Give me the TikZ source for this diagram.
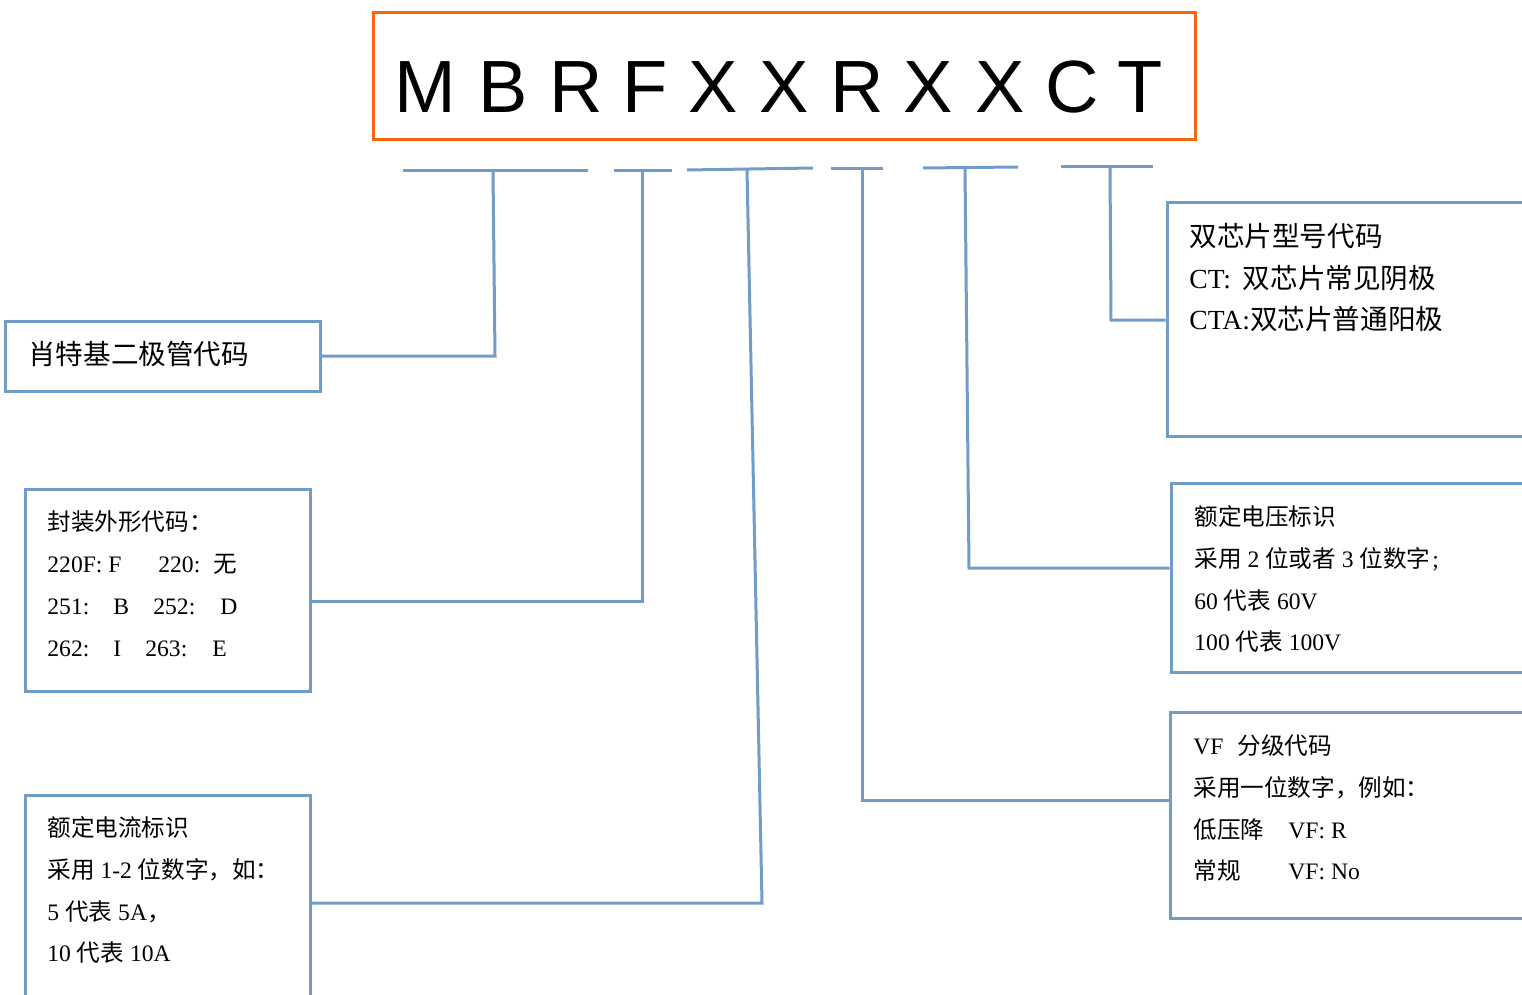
\documentclass[tikz,border=0pt]{standalone}
\usepackage{fontspec}
\setmainfont{Liberation Serif}
\newfontfamily\cjk{Noto Sans CJK SC}
\newfontfamily\titlefont{Liberation Sans}
\definecolor{lb}{RGB}{114,156,200}
\definecolor{org}{RGB}{250,102,10}
\begin{document}
\begin{tikzpicture}[x=0.5pt,y=-0.5pt,
 box/.style={draw=lb,line width=1.5pt,rectangle,inner sep=0pt},
 conn/.style={draw=lb,line width=1.5pt},
 txt/.style={anchor=base west,inner sep=0pt,font=\fontsize{11.8}{14}\selectfont},
 bigtxt/.style={anchor=base west,inner sep=0pt,font=\fontsize{13.8}{16}\selectfont},
 letter/.style={anchor=base,inner sep=0pt,font=\titlefont\fontsize{37}{40}\selectfont}]
\useasboundingbox (0,0) rectangle (1522,995);
\clip (0,0) rectangle (1522,995);
% title
\node[draw=org,line width=1.5pt,minimum width=411pt,minimum height=63.5pt,inner sep=0pt] (title) at (784,76.5) {};
\foreach \ch/\cx [count=\i] in {M/425.5,B/503.5,R/576,F/645,X/713.6,X/784,R/857,X/928.5,X/1000,C/1072,T/1140}
  \node[letter] (L\i) at (\cx,113) {\ch};
% boxes
\node[box,minimum width=157.5pt,minimum height=35pt] (b1) at (162.5,356) {};
\node[box,minimum width=142.5pt,minimum height=101pt] (b2) at (167.5,590) {};
\node[box,minimum width=142.5pt,minimum height=112.5pt] (b3) at (167.5,907.5) {};
\node[box,minimum width=186.5pt,minimum height=116.5pt] (b4) at (1353.5,319.5) {};
\node[box,minimum width=184.5pt,minimum height=94.5pt] (b5) at (1355.5,577.5) {};
\node[box,minimum width=185pt,minimum height=103pt] (b6) at (1355,815) {};
% ticks
\coordinate (t1a) at (403,171); \coordinate (t1b) at (588,171); \coordinate (t1m) at (493,171);
\coordinate (t2a) at (614,171); \coordinate (t2b) at (672,171); \coordinate (t2m) at (642,171);
\coordinate (t3a) at (687,170); \coordinate (t3b) at (813,168); \coordinate (t3m) at (747,169.2);
\coordinate (t4a) at (831,169); \coordinate (t4b) at (883,169); \coordinate (t4m) at (862,169);
\coordinate (t5a) at (923,168); \coordinate (t5b) at (1018,167); \coordinate (t5m) at (965,167.6);
\coordinate (t6a) at (1061,167); \coordinate (t6b) at (1153,167); \coordinate (t6m) at (1110,167);
\foreach \k in {1,...,6} \draw[conn] (t\k a) -- (t\k b);
% connectors
\coordinate (c1) at (495,356);
\coordinate (c2) at (642,601);
\coordinate (c3) at (762,903);
\coordinate (c4) at (862,800);
\coordinate (c5) at (969,568);
\coordinate (c6) at (1111,320);
\draw[conn] (t1m) -- (c1) -- (b1.east);
\draw[conn] (t2m) -- (c2) -- (c2 -| b2.east);
\draw[conn] (t3m) -- (c3) -- (c3 -| b3.east);
\draw[conn] (t4m) -- (c4) -- (c4 -| b6.west);
\draw[conn] (t5m) -- (c5) -- (c5 -| b5.west);
\draw[conn] (t6m) -- (c6) -- (c6 -| b4.west);
% box texts
\node[bigtxt] (b1t) at (28,364.5) {\cjk 肖特基二极管代码};
\node[txt] (b2t1) at (47,530) {{\cjk 封装外形代码：}};
\node[txt] (b2t2) at (47,572) {\makebox[55.5pt][l]{220F: F}\makebox[27.5pt][l]{220:}{\cjk 无}};
\node[txt] (b2t3) at (47,614) {\makebox[33pt][l]{251:}\makebox[20pt][l]{B}\makebox[33.5pt][l]{252:}D};
\node[txt] (b2t4) at (47,656) {\makebox[33pt][l]{262:}\makebox[16pt][l]{I}\makebox[33.5pt][l]{263:}E};
\node[txt] (b3t1) at (47,836) {{\cjk 额定电流标识}};
\node[txt] (b3t2) at (47,878) {{\cjk 采用} 1-2 {\cjk 位数字，如：}};
\node[txt] (b3t3) at (47,920) {5 {\cjk 代表} 5A{\cjk ，}};
\node[txt] (b3t4) at (47,961) {10 {\cjk 代表} 10A};
\node[bigtxt] (b4t1) at (1189,246.5) {{\cjk 双芯片型号代码}};
\node[bigtxt] (b4t2) at (1189,288.5) {CT:\hspace{6pt}{\cjk 双芯片常见阴极}};
\node[bigtxt] (b4t3) at (1189,329.5) {CTA:{\cjk 双芯片普通阳极}};
\node[txt] (b5t1) at (1194,525) {{\cjk 额定电压标识}};
\node[txt] (b5t2) at (1194,567) {{\cjk 采用} 2 {\cjk 位或者} 3 {\cjk 位数字}\kern1pt;};
\node[txt] (b5t3) at (1194,609) {60 {\cjk 代表} 60V};
\node[txt] (b5t4) at (1194,650) {100 {\cjk 代表} 100V};
\node[txt] (b6t1) at (1193,754) {VF\hspace{7pt}{\cjk 分级代码}};
\node[txt] (b6t2) at (1193,796) {{\cjk 采用一位数字，例如：}};
\node[txt] (b6t3) at (1193,838) {\makebox[47.5pt][l]{\cjk 低压降}VF: R};
\node[txt] (b6t4) at (1193,879) {\makebox[47.5pt][l]{\cjk 常规}VF: No};
\end{tikzpicture}
\end{document}
